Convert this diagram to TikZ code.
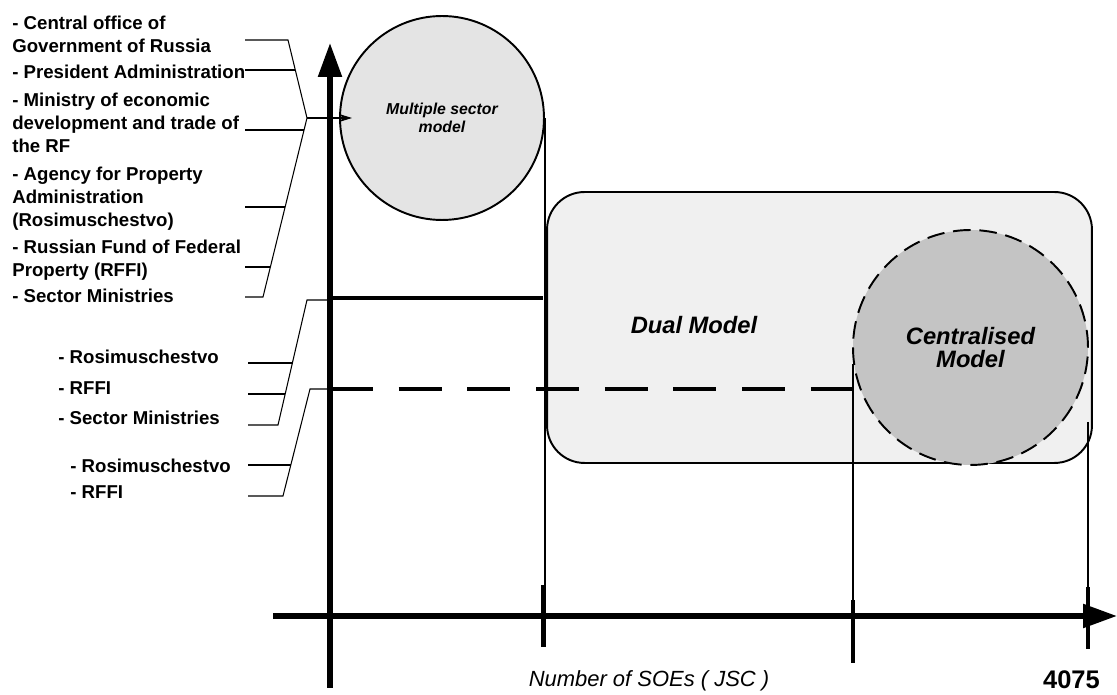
\documentclass[tikz,border=0pt]{standalone}
\usepackage{fontspec}
\setmainfont{Liberation Sans}
\usepackage{tikz}
\usetikzlibrary{arrows.meta,shapes,positioning}
\usepackage{xcolor}
\definecolor{msgray}{RGB}{228,228,228}
\definecolor{dmgray}{RGB}{240,240,240}
\definecolor{cmgray}{RGB}{196,196,196}
\tikzstyle{axis} = [line width=3.1pt,-{Triangle[length=0.68cm,width=0.46cm]}]
\tikzstyle{guide} = [line width=1pt]
\tikzstyle{brace} = [line width=0.6pt]
\tikzstyle{tickmark} = [line width=2.3pt]
\tikzstyle{level} = [line width=2.3pt]
\tikzstyle{lbl} = [anchor=base west, inner sep=0pt, align=left, font=\bfseries\fontsize{10.6}{12.9}\selectfont]
\tikzstyle{model} = [font=\bfseries\itshape\fontsize{13.5}{13.6}\selectfont, align=center]

\begin{document}
\begin{tikzpicture}[x=0.02cm, y=-0.02cm]
\useasboundingbox (0,0) rectangle (1117,695);

% Models
\node[circle, draw, line width=1.1pt, fill=msgray, minimum size=4.08cm, inner sep=0pt,
  font=\bfseries\itshape\fontsize{9}{10.2}\selectfont, align=center] (multi) at (442,118) {Multiple sector\\model};
\node[rectangle, rounded corners=0.75cm, draw, line width=1.1pt, fill=dmgray,
  minimum width=10.9cm, minimum height=5.42cm] (dual) at (819.5,327.5) {};
\node[model] (dualtxt) at (694,325) {Dual Model};
\node[circle, draw, dash pattern=on 10pt off 5pt, line width=1.1pt, fill=cmgray,
  minimum size=4.7cm, inner sep=0pt, model] (centr) at (970.5,347.5) {Centralised\\Model};

% Axes
\coordinate (xorig) at (273,616);
\coordinate (xend) at (1117,616);
\coordinate (yorig) at (330,688);
\coordinate (yend) at (330,43);
\draw[axis] (yorig) -- (yend);
\draw[axis] (xorig) -- (xend);

% Ticks
\coordinate (ta) at (543,647);
\coordinate (tb) at (853,663);
\coordinate (tc) at (1088,649);
\coordinate (tctop) at (1088,422);
\draw[tickmark] (ta) -- ++(0,-62);
\draw[tickmark] (tb) -- ++(0,-63);
\draw[tickmark] (tc) -- ++(0,-62);
\draw[guide] (multi.east) -- (multi.east |- ta);
\draw[guide] (centr.188) -- (centr.188 |- tb);
\draw[guide] (tctop) -- (tc);

% Levels
\coordinate (lvA) at (330,298);
\coordinate (lvB) at (330,389);
\draw[level] (lvA) -- (lvA -| ta);
\draw[level, dash pattern=on 24.4pt off 14.7pt] (lvB) -- (853,389);

\node[font=\itshape\fontsize{12.5}{14}\selectfont] (xlabel) at (649,681) {Number of SOEs ( JSC )};
\node[font=\bfseries\fontsize{14.5}{15}\selectfont] (xmax) at (1071.5,680) {4075};

% Left labels, first group (placed at the baseline of their last line)
\node[lbl] (g1a) at (12,52.3) {- Central office of\\Government of Russia};
\node[lbl] (g1b) at (12,78.5) {- President Administration};
\node[lbl] (g1c) at (12,152.1) {- Ministry of economic\\development and trade of\\the RF};
\node[lbl] (g1d) at (12,226.1) {- Agency for Property\\Administration\\(Rosimuschestvo)};
\node[lbl] (g1e) at (12,276.3) {- Russian Fund of Federal\\Property (RFFI)};
\node[lbl] (g1f) at (12,302.5) {- Sector Ministries};

\coordinate (b1top) at (245,40);
\coordinate (b1k1) at (288,40);
\coordinate (b1apex) at (307,118);
\coordinate (b1k2) at (263,297);
\coordinate (b1bot) at (245,297);
\coordinate (b1end) at (352,118);
\draw[brace] (b1top) -- (b1k1) -- (b1apex) -- (b1k2) -- (b1bot);
\draw[brace] (245,70) -- (295,70);
\draw[brace] (245,130) -- (304,130);
\draw[brace] (245,207) -- (285,207);
\draw[brace] (245,267) -- (270,267);
\draw[brace, -{Stealth[length=0.26cm,width=0.16cm]}] (b1apex) -- (b1end);

% Left labels, second group
\node[lbl] (g2a) at (58,363.5) {- Rosimuschestvo};
\node[lbl] (g2b) at (58,394.5) {- RFFI};
\node[lbl] (g2c) at (58,424.5) {- Sector Ministries};

\coordinate (b2k1) at (307,300);
\coordinate (b2k2) at (278,425);
\coordinate (b2bot) at (248,425);
\draw[brace] (330,300) -- (b2k1) -- (b2k2) -- (b2bot);
\draw[brace] (248,363) -- (292,363);
\draw[brace] (248,394) -- (285,394);

% Left labels, third group
\node[lbl] (g3a) at (70,472.5) {- Rosimuschestvo};
\node[lbl] (g3b) at (70,498.5) {- RFFI};

\coordinate (b3k1) at (310,389);
\coordinate (b3k2) at (283,496);
\coordinate (b3bot) at (248,496);
\draw[brace] (lvB) -- (b3k1) -- (b3k2) -- (b3bot);
\draw[brace] (248,465) -- (291,465);
\end{tikzpicture}
\end{document}
